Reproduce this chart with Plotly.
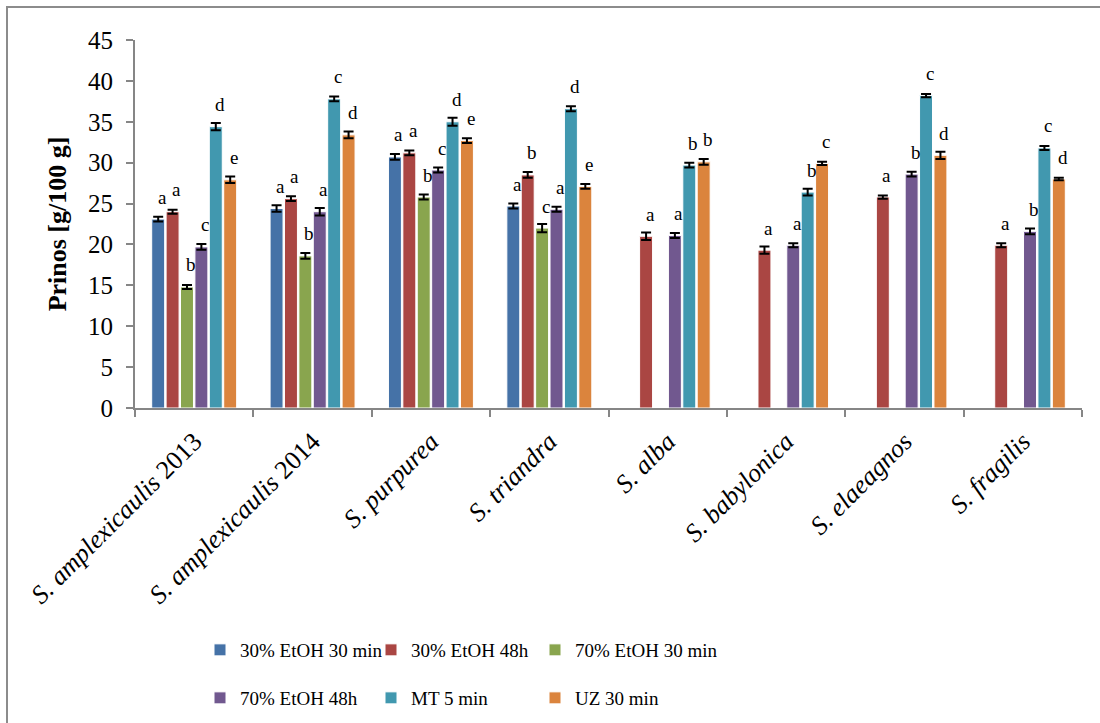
import plotly.graph_objects as go

# Species / samples on the x axis
categories = [
    "S. amplexicaulis 2013", "S. amplexicaulis 2014", "S. purpurea", "S. triandra",
    "S. alba", "S. babylonica", "S. elaeagnos", "S. fragilis",
]
tick_labels = [
    "<i>S. amplexicaulis</i> 2013", "<i>S. amplexicaulis</i> 2014", "<i>S. purpurea</i>",
    "<i>S. triandra</i>", "<i>S. alba</i>", "<i>S. babylonica</i>", "<i>S. elaeagnos</i>",
    "<i>S. fragilis</i>",
]

# Extraction yield [g/100 g] per method (None = not measured)
etoh30_30min = [23.1, 24.4, 30.7, 24.7, None, None, None, None]
etoh30_48h = [24.0, 25.6, 31.2, 28.5, 21.0, 19.3, 25.8, 19.9]
etoh70_30min = [14.8, 18.6, 25.8, 22.0, None, None, None, None]
etoh70_48h = [19.7, 24.0, 29.1, 24.3, 21.1, 19.9, 28.6, 21.6]
mt_5min = [34.4, 37.8, 35.0, 36.6, 29.7, 26.4, 38.2, 31.8]
uz_30min = [27.9, 33.4, 32.7, 27.1, 30.1, 29.9, 30.9, 28.0]

# Standard deviations
sd_etoh30_30min = [0.3, 0.4, 0.35, 0.3, None, None, None, None]
sd_etoh30_48h = [0.25, 0.3, 0.3, 0.35, 0.45, 0.45, 0.2, 0.25]
sd_etoh70_30min = [0.25, 0.35, 0.3, 0.5, None, None, None, None]
sd_etoh70_48h = [0.35, 0.45, 0.3, 0.3, 0.3, 0.25, 0.3, 0.35]
sd_mt_5min = [0.45, 0.3, 0.5, 0.3, 0.3, 0.4, 0.2, 0.25]
sd_uz_30min = [0.4, 0.4, 0.3, 0.3, 0.35, 0.2, 0.45, 0.15]

# Significance letters
let_etoh30_30min = ["a", "a", "a", "a", "", "", "", ""]
let_etoh30_48h = ["a", "a", "a", "b", "a", "a", "a", "a"]
let_etoh70_30min = ["b", "b", "b", "c", "", "", "", ""]
let_etoh70_48h = ["c", "a", "c", "a", "a", "a", "b", "b"]
let_mt_5min = ["d", "c", "d", "d", "b", "b", "c", "c"]
let_uz_30min = ["e", "d", "e", "e", "b", "c", "d", "d"]

series_names = ["30% EtOH 30 min", "30% EtOH 48h", "70% EtOH 30 min",
                "70% EtOH 48h", "MT 5 min", "UZ 30 min"]
series_values = [etoh30_30min, etoh30_48h, etoh70_30min, etoh70_48h, mt_5min, uz_30min]
series_sd = [sd_etoh30_30min, sd_etoh30_48h, sd_etoh70_30min, sd_etoh70_48h, sd_mt_5min, sd_uz_30min]
series_letters = [let_etoh30_30min, let_etoh30_48h, let_etoh70_30min,
                  let_etoh70_48h, let_mt_5min, let_uz_30min]
colors = ["#4572A7", "#AA4643", "#89A54E", "#71588F", "#4198AF", "#DB843D"]

FONT = "Liberation Serif, Times New Roman, serif"
W, H = 1100, 723
ML, MR, MT, MB = 135, 18, 40, 315
BARGAP = 0.27
plot_w = W - ML - MR
n_cat = len(categories)
n_ser = len(series_names)
slot_px = plot_w / n_cat * (1 - BARGAP) / n_ser

# Legend layout: three columns, two rows, one legend box per entry
LEG_COL_X = [200, 371, 535]
LEG_ROW_Y = [650, 698]
legend_ids = ["legend" if k == 0 else f"legend{k + 1}" for k in range(n_ser)]

fig = go.Figure()
for k, (name, vals, sd, col) in enumerate(zip(series_names, series_values, series_sd, colors)):
    fig.add_trace(go.Bar(
        x=categories, y=vals, name=name, showlegend=True,
        marker=dict(color=col, line=dict(color="white", width=1)),
        error_y=dict(type="data", array=sd, visible=True, color="black",
                     thickness=2, width=5),
        legend=legend_ids[k],
    ))

# Letters above the bars
for k, (vals, letters) in enumerate(zip(series_values, series_letters)):
    for cat, v, lab in zip(categories, vals, letters):
        if v is None or not lab:
            continue
        fig.add_annotation(
            x=cat, y=v, text=lab, showarrow=False,
            xshift=(k - (n_ser - 1) / 2) * slot_px + 4, yshift=22,
            font=dict(family=FONT, size=19, color="black"),
        )

def px_x(px):
    return (px - ML) / plot_w

def px_y(py):
    return (H - MB - py) / (H - MT - MB)

# Outer chart frame
fig.add_shape(type="rect", xref="paper", yref="paper",
              x0=px_x(7), x1=px_x(1120), y0=px_y(7), y1=px_y(740),
              line=dict(color="#8C8C8C", width=2), layer="below")

legends = {}
for k, lid in enumerate(legend_ids):
    legends[lid] = dict(
        orientation="h", xref="container", yref="container",
        xanchor="left", yanchor="middle",
        x=LEG_COL_X[k % 3] / W, y=1 - LEG_ROW_Y[k // 3] / H,
        font=dict(family=FONT, size=19, color="black"),
        itemwidth=30, bgcolor="rgba(0,0,0,0)",
    )

fig.update_layout(
    width=W, height=H,
    margin=dict(l=ML, r=MR, t=MT, b=MB),
    paper_bgcolor="white", plot_bgcolor="white",
    showlegend=True,
    barmode="group", bargap=BARGAP, bargroupgap=0.1,
    font=dict(family=FONT, color="black"),
    xaxis=dict(
        type="category", tickvals=categories, ticktext=tick_labels,
        tickangle=-45, tickson="boundaries", ticks="outside", ticklen=7,
        tickcolor="#868686", tickwidth=2,
        showline=True, linecolor="#868686", linewidth=2,
        tickfont=dict(family=FONT, size=26, color="black"),
        showgrid=False, ticklabelstandoff=6,
    ),
    yaxis=dict(
        range=[0, 45], dtick=5, ticks="outside", ticklen=7,
        tickcolor="#868686", tickwidth=2,
        showline=True, linecolor="#868686", linewidth=2,
        showgrid=False, zeroline=False,
        tickfont=dict(family=FONT, size=25, color="black"),
        ticklabelstandoff=8,
        title=dict(text="<b>Prinos [g/100 g]</b>", standoff=14,
                   font=dict(family=FONT, size=26, color="black")),
    ),
    **legends,
)

fig.write_html("out.html")
